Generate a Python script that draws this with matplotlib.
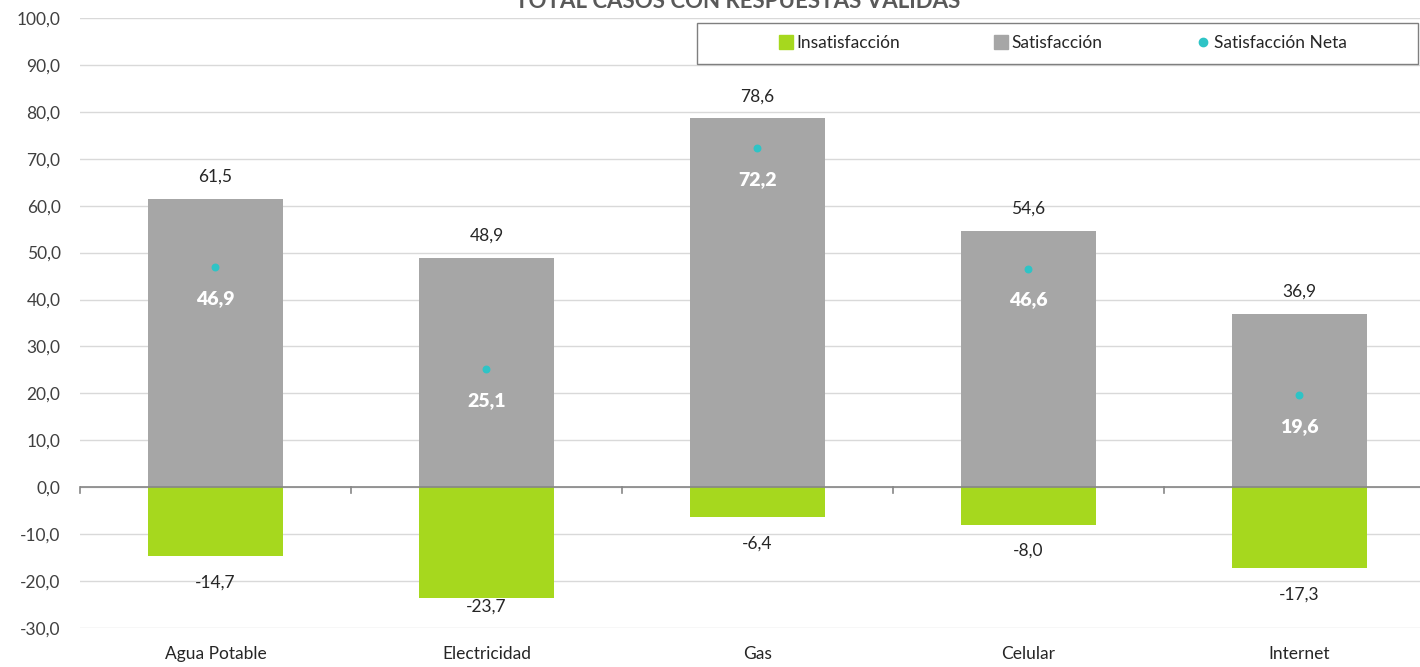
import matplotlib
matplotlib.use("Agg")
import matplotlib.pyplot as plt
from matplotlib.lines import Line2D
from matplotlib.patches import Rectangle

plt.rcParams['font.family'] = ['Lato', 'DejaVu Sans']

categories = ['Agua Potable', 'Electricidad', 'Gas', 'Celular', 'Internet']
insatisfaccion = [-14.7, -23.7, -6.4, -8.0, -17.3]
satisfaccion = [61.5, 48.9, 78.6, 54.6, 36.9]
neta = [46.9, 25.1, 72.2, 46.6, 19.6]
yticks = [-30, -20, -10, 0, 10, 20, 30, 40, 50, 60, 70, 80, 90, 100]

GREEN = '#A6D81E'
GRAY = '#A6A6A6'
TEAL = '#2EC4C6'

def fmt(v):
    return f"{v:.1f}".replace('.', ',')

W, H = 1420, 667
fig = plt.figure(figsize=(W / 100, H / 100), dpi=100)
ax = fig.add_axes([80 / W, (H - 628) / H, 1355 / W, 610 / H])

x = list(range(len(categories)))
ax.bar(x, satisfaccion, width=0.5, color=GRAY, zorder=2)
ax.bar(x, insatisfaccion, width=0.5, color=GREEN, zorder=2)
ax.scatter(x, neta, s=22, color=TEAL, zorder=3)

ax.set_xlim(-0.5, len(categories) - 0.5)
ax.set_ylim(-30, 100)

px_per_unit = 610 / 130.0
for i in x:
    ax.annotate(fmt(satisfaccion[i]), (i, satisfaccion[i]), xytext=(0, 22), textcoords='offset pixels',
                ha='center', va='center', fontsize=12.5, color='#262626')
    # negative label below bar, kept inside plot area
    ylab = max(insatisfaccion[i] - 26 / px_per_unit, -30 + 21 / px_per_unit)
    ax.text(i, ylab, fmt(insatisfaccion[i]), ha='center', va='center', fontsize=12.5, color='#262626')
    ax.annotate(fmt(neta[i]), (i, neta[i]), xytext=(0, -31), textcoords='offset pixels',
                ha='center', va='center', fontsize=14, color='white', fontweight='heavy')

ax.set_yticks(yticks)
ax.set_yticklabels([fmt(v) for v in yticks], fontsize=12.5, color='#404040')
ax.grid(axis='y', color='#D9D9D9', linewidth=1, zorder=0)
ax.set_axisbelow(True)
for s in ax.spines.values():
    s.set_visible(False)
ax.tick_params(axis='y', length=0, pad=14)
ax.axhline(0, color='#868686', linewidth=1.2, zorder=2.5)
ax.set_xticks(x)
ax.set_xticklabels(categories, fontsize=12.5, color='#262626')
ax.tick_params(axis='x', length=0, pad=13)
# category boundary ticks on zero line
for b in [i - 0.5 for i in range(len(categories) + 1)]:
    ax.plot([b, b], [0, -1.3], color='#868686', linewidth=1.2, zorder=2.5, clip_on=False)

fig.text(738 / W, 1 - 1 / H, 'TOTAL CASOS CON RESPUESTAS VÁLIDAS', ha='center', va='center',
         fontsize=16, fontweight='bold', color='#595959')

# legend box
fig.patches.append(Rectangle((697 / W, 1 - 64 / H), 721 / W, 41 / H, transform=fig.transFigure,
                             facecolor='white', edgecolor='#7F7F7F', linewidth=1.0, zorder=5))
handles = [
    Line2D([], [], marker='s', linestyle='none', color=GREEN, markersize=10),
    Line2D([], [], marker='s', linestyle='none', color=GRAY, markersize=10),
    Line2D([], [], marker='o', linestyle='none', color=TEAL, markersize=6),
]
leg = fig.legend(handles, ['Insatisfacción', 'Satisfacción', 'Satisfacción Neta'],
                 loc='center', bbox_to_anchor=(1062 / W, 1 - 43.5 / H),
                 ncol=3, fontsize=12.5, frameon=False,
                 handletextpad=0.1, columnspacing=5.3, handlelength=1.0)
leg.set_zorder(6)
for t in leg.get_texts():
    t.set_color('#262626')

fig.savefig('out.png', dpi=100)
